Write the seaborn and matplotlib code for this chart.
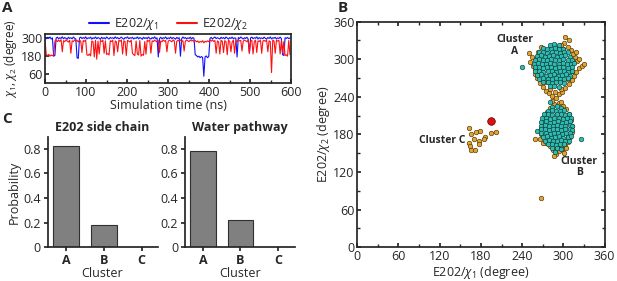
import numpy as np
import pandas as pd
import matplotlib
matplotlib.use("Agg")
import matplotlib.pyplot as plt
from matplotlib.ticker import MultipleLocator, FixedLocator
import seaborn as sns

# ---- Panel A: dihedral time series (ns, degree) ----
time_ns = np.arange(0, 600, 3)
chi1 = [305, 298, 308, 300, 310, 296, 304, 180, 185, 302, 309, 297, 305, 300, 311, 298, 306, 301, 294, 308,
        300, 305, 297, 310, 302, 296, 170, 165, 303, 309, 299, 306, 300, 311,
        297, 304, 301, 309, 295, 305, 300, 310, 298, 306, 302, 294, 308, 300, 305, 297, 310, 302, 296, 307,
        301, 305, 298, 311, 300, 306, 297, 303, 309, 300, 295, 306, 302, 310, 298, 305, 301, 308, 296, 304,
        300, 310, 297, 306, 302, 294, 308, 300, 305, 298,
        309, 301, 296, 306, 300, 311, 298, 304, 175, 300, 308, 297, 305, 301, 310, 296, 304, 300, 309, 298,
        306, 302, 295, 307, 300, 305, 180, 298, 310, 301, 306, 297, 304, 300, 309, 296, 306, 301, 190,
        185, 175, 180, 170, 178, 172, 45, 176, 182, 170, 178,
        300, 307, 297, 304, 310, 299, 305, 301, 296, 308, 300, 306, 297, 310, 302, 295, 306, 300, 309, 298,
        304, 301, 175, 306, 299, 310, 302, 296, 305, 300, 308, 297, 200, 304, 309, 298, 305, 301, 310, 296,
        306, 300, 304, 298, 309, 301, 295, 306, 300, 310, 297, 305, 301, 308, 296, 304, 300, 309, 298, 190,
        185, 305, 300, 307, 298, 304]
chi2 = [285, 190, 185, 192, 180, 188, 183, 190, 282, 290, 278, 288, 280, 292, 210, 285, 278, 290, 283, 275,
        288, 200, 284, 279, 291, 282, 287, 276, 289, 281, 205, 286, 280, 290,
        190, 185, 195, 182, 283, 278, 175, 288, 160, 282, 195, 286, 279, 290, 200, 284, 192, 198, 188, 285,
        279, 289, 185, 283, 277, 210, 288, 281, 290, 195, 284, 279, 185, 287, 282, 276, 289, 200, 190, 185,
        283, 195, 188, 286, 180, 192, 186, 279, 194, 288,
        281, 290, 200, 284, 279, 289, 282, 276, 287, 205, 283, 278, 290, 281, 286, 210, 280, 289, 283, 277,
        290, 284, 200, 280, 288, 282, 290, 279, 285, 215, 281, 289, 284, 278, 290, 283, 287, 280,
        286, 277, 283, 272, 280, 275, 285, 270, 281, 276, 284, 278,
        289, 282, 290, 279, 286, 200, 283, 277, 195, 288, 281, 205, 285, 279, 190, 287, 282, 210, 276, 289,
        200, 284, 279, 290, 283, 287, 215, 281, 289, 284, 278, 290, 200, 283, 287, 195, 280, 289, 205, 284,
        279, 290, 200, 283, 287, 280, 289, 210, 284, 278, 70, 290, 283, 200, 287, 281, 289, 195, 285, 200,
        279, 185, 190, 180, 286, 190]

# ---- Panel B: cluster scatter (degree) ----
cyan_a = [(281, 323), (287, 324), (293, 322),
          (270, 318), (276, 316), (282, 317), (288, 318), (294, 316), (300, 317),
          (264, 311), (270, 312), (276, 310), (283, 311), (289, 312), (295, 310), (301, 311), (307, 312),
          (261, 305), (267, 306), (273, 304), (279, 305), (285, 306), (291, 304), (297, 305), (303, 306), (309, 304),
          (258, 299), (264, 300), (270, 298), (276, 299), (282, 300), (288, 298), (294, 299), (300, 300), (306, 298), (312, 299),
          (257, 293), (263, 294), (269, 292), (275, 293), (281, 294), (287, 292), (293, 293), (299, 294), (305, 292), (311, 293), (316, 294),
          (258, 287), (264, 288), (270, 286), (276, 287), (282, 288), (288, 286), (294, 287), (300, 288), (306, 286), (312, 287),
          (259, 281), (265, 282), (271, 280), (277, 281), (283, 282), (289, 280), (295, 281), (301, 282), (307, 280), (313, 281),
          (262, 275), (268, 276), (274, 274), (280, 275), (286, 276), (292, 274), (298, 275), (304, 276), (310, 274),
          (265, 269), (271, 270), (277, 268), (283, 269), (289, 270), (295, 268), (301, 269), (307, 270),
          (271, 263), (277, 264), (283, 262), (289, 263), (295, 264), (301, 262),
          (281, 257), (287, 258), (293, 256), (239, 288)]
cyan_b = [(284, 224), (290, 225), (296, 223),
          (277, 218), (283, 219), (289, 217), (295, 218), (301, 219),
          (272, 212), (278, 213), (284, 211), (290, 212), (296, 213), (302, 211), (308, 212),
          (269, 206), (275, 207), (281, 205), (287, 206), (293, 207), (299, 205), (305, 206), (311, 207),
          (268, 200), (274, 201), (280, 199), (286, 200), (292, 201), (298, 199), (304, 200), (310, 201),
          (267, 194), (273, 195), (279, 193), (285, 194), (291, 195), (297, 193), (303, 194), (309, 195), (313, 193),
          (267, 188), (273, 189), (279, 187), (285, 188), (291, 189), (297, 187), (303, 188), (309, 189), (313, 187),
          (268, 182), (274, 183), (280, 181), (286, 182), (292, 183), (298, 181), (304, 182), (310, 183),
          (270, 176), (276, 177), (282, 175), (288, 176), (294, 177), (300, 175), (306, 176), (311, 177),
          (273, 170), (279, 171), (285, 169), (291, 170), (297, 171), (303, 169), (308, 170),
          (277, 164), (283, 165), (289, 163), (295, 164), (301, 165),
          (284, 158), (290, 159), (296, 157), (288, 152),
          (325, 172), (280, 232), (262, 185)]
orange_pts = [(250, 310), (254, 303), (252, 296), (256, 290), (258, 284), (259, 277), (262, 270), (266, 262),
              (270, 256), (274, 250), (279, 246), (284, 242), (289, 238), (293, 244), (298, 248), (303, 254),
              (308, 260), (312, 267), (316, 273), (319, 280), (322, 286), (327, 290), (330, 292), (320, 297),
              (317, 303), (314, 309), (311, 315), (306, 320), (301, 326), (296, 323), (303, 335), (308, 331),
              (292, 318), (318, 312), (322, 300), (314, 295), (260, 300), (263, 312), (300, 316), (268, 320),
              (273, 263), (280, 253), (306, 268), (312, 282), (296, 253), (288, 248),
              (258, 172), (268, 188), (270, 198), (272, 208), (276, 216), (280, 222), (286, 228), (293, 230),
              (299, 226), (304, 220), (308, 212), (311, 203), (313, 194), (312, 184), (309, 176), (306, 168),
              (302, 162), (298, 157), (293, 153), (289, 149), (285, 155), (280, 162), (275, 166), (270, 166),
              (266, 172), (268, 180), (283, 166), (290, 160), (296, 163), (304, 158), (301, 150), (287, 145),
              (296, 232), (283, 233), (306, 178), (278, 170),
              (163, 190), (166, 181), (173, 184), (179, 186), (186, 176), (195, 182), (202, 184), (170, 173),
              (177, 170), (163, 166), (164, 162), (172, 156), (165, 156), (177, 165), (184, 172),
              (268, 78)]
red_pt = [(194, 201)]

# ---- Panel C: cluster probabilities ----
clusters = ["A", "B", "C"]
prob_side_chain = [0.82, 0.18, 0.005]
prob_water = [0.78, 0.22, 0.0]

sns.set_theme(style="ticks")
plt.rcParams["font.family"] = ["Open Sans", "DejaVu Sans"]
plt.rcParams["mathtext.fontset"] = "custom"
plt.rcParams["mathtext.rm"] = "Open Sans"
plt.rcParams["mathtext.it"] = "Open Sans:italic"
plt.rcParams["font.size"] = 9

fig = plt.figure(figsize=(6.17, 2.81), dpi=100)

# Panel A
axA = fig.add_axes([0.073, 0.705, 0.399, 0.174])
sns.lineplot(x=time_ns, y=chi1, color="#1010ff", estimator=None, sort=False,
             linewidth=0.8, label="E202/$\\chi_1$", ax=axA)
sns.lineplot(x=time_ns, y=chi2, color="#ff1010", estimator=None, sort=False,
             linewidth=0.8, label="E202/$\\chi_2$", ax=axA)
axA.set_xlim(0, 600)
axA.set_ylim(0, 330)
axA.yaxis.set_major_locator(FixedLocator([60, 180, 300]))
axA.xaxis.set_major_locator(MultipleLocator(100))
axA.xaxis.set_minor_locator(MultipleLocator(50))
axA.tick_params(direction="in", labelsize=9, length=3, pad=2)
axA.tick_params(which="minor", direction="in", length=2)
axA.set_xlabel("Simulation time (ns)", fontsize=9, labelpad=0)
axA.set_ylabel("$\\chi_1$, $\\chi_2$ (degree)", fontsize=8.5, labelpad=1)
leg = axA.legend(loc="lower center", bbox_to_anchor=(0.5, 0.93), ncol=2, frameon=False,
                 fontsize=9, handlelength=1.6, columnspacing=1.5, handletextpad=0.4, borderaxespad=0)
for h in leg.get_lines():
    h.set_linewidth(1.5)

# Panel B
axB = fig.add_axes([0.579, 0.120, 0.401, 0.803])
sc_df = pd.DataFrame(orange_pts + cyan_a + cyan_b + red_pt, columns=["chi1", "chi2"])
sc_df["grp"] = (["orange"] * len(orange_pts) + ["cyan"] * (len(cyan_a) + len(cyan_b)) + ["red"])
sns.scatterplot(data=sc_df[sc_df.grp == "orange"], x="chi1", y="chi2", color="#e3a232",
                s=11, edgecolor="#3a2a00", linewidth=0.4, ax=axB)
sns.scatterplot(data=sc_df[sc_df.grp == "cyan"], x="chi1", y="chi2", color="#2cbcb2",
                s=11, edgecolor="#06302e", linewidth=0.4, ax=axB)
sns.scatterplot(data=sc_df[sc_df.grp == "red"], x="chi1", y="chi2", color="#e01010",
                s=30, edgecolor="#500000", linewidth=0.5, ax=axB)
axB.set_xlim(0, 360)
axB.set_ylim(0, 360)
for axis in (axB.xaxis, axB.yaxis):
    axis.set_major_locator(MultipleLocator(60))
    axis.set_minor_locator(MultipleLocator(30))
axB.tick_params(which="both", direction="in", top=True, right=True, labelsize=9, pad=2)
axB.tick_params(which="major", length=3)
axB.tick_params(which="minor", length=2)
axB.set_xlabel("E202/$\\chi_1$ (degree)", fontsize=9, labelpad=1)
axB.set_ylabel("E202/$\\chi_2$ (degree)", fontsize=9, labelpad=1)
axB.text(229, 322, "Cluster\nA", ha="center", va="center", fontsize=7.5, fontweight="bold", linespacing=1.1)
axB.text(323, 128, "Cluster\nB", ha="center", va="center", fontsize=7.5, fontweight="bold", linespacing=1.1)
axB.text(158, 170, "Cluster C", ha="right", va="center", fontsize=7.5, fontweight="bold")

# Panel C
bar_specs = [(0.0773, prob_side_chain, "E202 side chain", (-0.49, 2.42)),
             (0.300, prob_water, "Water pathway", (-0.485, 2.46))]
for i, (left, vals, title, xl) in enumerate(bar_specs):
    ax = fig.add_axes([left, 0.120, 0.178, 0.394])
    sns.barplot(x=clusters, y=vals, color="#808080", edgecolor="#303030", linewidth=0.8,
                width=0.69, saturation=1, ax=ax)
    ax.set_xlim(*xl)
    ax.set_ylim(0, 0.9)
    ax.set_yticks([0, 0.2, 0.4, 0.6, 0.8])
    ax.set_yticklabels(["0", "0.2", "0.4", "0.6", "0.8"])
    ax.tick_params(labelsize=9, length=3, pad=2)
    for lab in ax.get_xticklabels():
        lab.set_fontweight("bold")
    sns.despine(ax=ax)
    ax.set_title(title, fontsize=9, fontweight="bold", pad=4)
    ax.set_xlabel("Cluster", fontsize=9, labelpad=0)
    if i == 0:
        ax.set_ylabel("Probability", fontsize=9, labelpad=2)

fig.text(0.004, 0.995, "A", fontsize=11, fontweight="bold", va="top")
fig.text(0.547, 0.995, "B", fontsize=11, fontweight="bold", va="top")
fig.text(0.004, 0.600, "C", fontsize=11, fontweight="bold", va="top")

fig.savefig("out.png", dpi=100)
